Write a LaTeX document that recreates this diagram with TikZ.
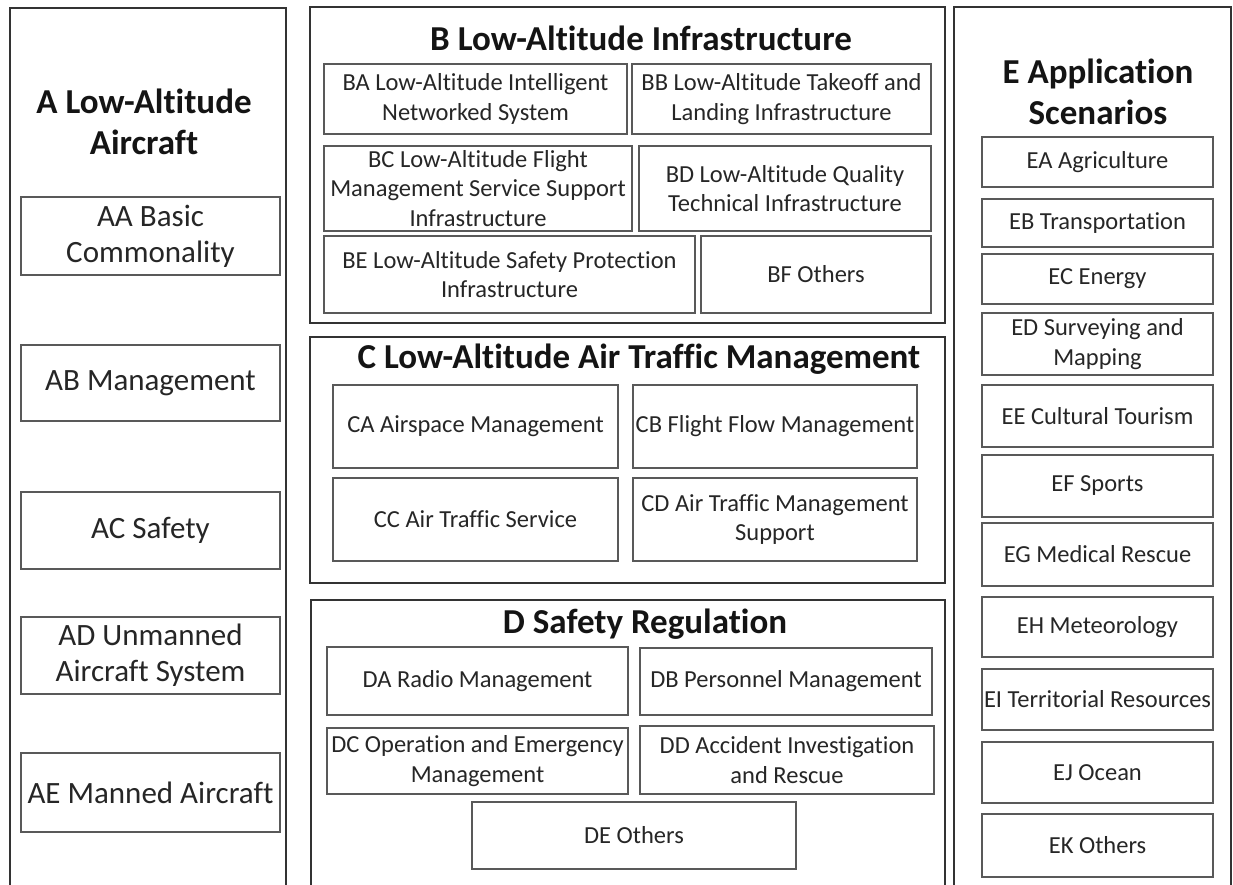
\documentclass[tikz,border=0pt]{standalone}
\usepackage{fontspec}
\setmainfont{Carlito}[Ligatures={NoCommon,NoContextual,NoRequired}]
\tikzset{
	frame_box/.style = {
		rectangle,
		inner sep=0pt,
		draw=black!80,
		line width=2pt
	},
	item_box/.style = {
		rectangle,
		align=center,
		inner sep=0pt,
		text=black!85,
		draw=black!65,
		line width=1.3pt
	},
	item_big/.style = {
		item_box,
		font=\fontsize{31}{36}\selectfont
	},
	item_mid/.style = {
		item_box,
		font=\fontsize{24.5}{29.5}\selectfont
	},
	title_node/.style = {
		align=center,
		inner sep=0pt,
		text=black!92,
		font=\fontsize{35}{41}\selectfont\bfseries
	},
	wh/.style 2 args = {
		minimum width=#1pt,
		minimum height=#2pt
	},
}
\begin{document}
\begin{tikzpicture}[x=1pt, y=-1pt]
\useasboundingbox[fill=white] (0,0) rectangle (1233,885);

\node [frame_box, wh={276}{884}] (A) at (148,450) {};
\node [frame_box, wh={635}{316}] (B) at (627.5,165) {};
\node [frame_box, wh={635}{246}] (C) at (627.5,460) {};
\node [frame_box, wh={634}{292}] (D) at (628,746) {};
\node [frame_box, wh={277}{885}] (E) at (1092.5,449.5) {};

\node [title_node] (A_title) at (144,122) {A Low-Altitude\\Aircraft};
\node [item_big, wh={259}{78}] (AA) at (150.5,236) {AA Basic\\Commonality};
\node [item_big, wh={259}{76}] (AB) at (150.5,383) {AB Management};
\node [item_big, wh={259}{77}] (AC) at (150.5,530.5) {AC Safety};
\node [item_big, wh={259}{77}] (AD) at (150.5,655.5) {AD Unmanned\\Aircraft System};
\node [item_big, wh={259}{79}] (AE) at (150.5,792.5) {AE Manned Aircraft};

\node [title_node, anchor=base] (B_title) at (641,51) {B Low-Altitude Infrastructure};
\node [item_mid, wh={303}{70}] (BA) at (475.5,99) {BA Low-Altitude Intelligent\\Networked System};
\node [item_mid, wh={299}{70}] (BB) at (781.5,99) {BB Low-Altitude Takeoff and\\Landing Infrastructure};
\node [item_mid, wh={308}{85}] (BC) at (478,188.5) {BC Low-Altitude Flight\\Management Service Support\\Infrastructure};
\node [item_mid, wh={292}{85}] (BD) at (785,188.5) {BD Low-Altitude Quality\\Technical Infrastructure};
\node [item_mid, wh={371}{77}] (BE) at (509.5,274.5) {BE Low-Altitude Safety Protection\\Infrastructure};
\node [item_mid, wh={230}{77}] (BF) at (816,274.5) {BF Others};

\node [title_node, anchor=base] (C_title) at (639,368) {C Low-Altitude Air Traffic Management};
\node [item_mid, wh={285}{83}] (CA) at (475.5,426.5) {CA Airspace Management};
\node [item_mid, wh={284}{83}] (CB) at (775,426.5) {CB Flight Flow Management};
\node [item_mid, wh={285}{83}] (CC) at (475.5,519.5) {CC Air Traffic Service};
\node [item_mid, wh={284}{83}] (CD) at (775,519.5) {CD Air Traffic Management\\Support};

\node [title_node, anchor=base] (D_title) at (645,633) {D Safety Regulation};
\node [item_mid, wh={301}{68}] (DA) at (477.5,681) {DA Radio Management};
\node [item_mid, wh={292}{67}] (DB) at (786,681.5) {DB Personnel Management};
\node [item_mid, wh={301}{66}] (DC) at (477.5,761) {DC Operation and Emergency\\Management};
\node [item_mid, wh={294}{68}] (DD) at (787,760) {DD Accident Investigation\\and Rescue};
\node [item_mid, wh={324}{67}] (DE) at (634,835.5) {DE Others};

\node [title_node] (E_title) at (1098,92) {E Application\\Scenarios};
\node [item_mid, wh={231}{50}] (EA) at (1097.5,162) {EA Agriculture};
\node [item_mid, wh={231}{48}] (EB) at (1097.5,223) {EB Transportation};
\node [item_mid, wh={231}{50}] (EC) at (1097.5,279) {EC Energy};
\node [item_mid, wh={231}{62}] (ED) at (1097.5,344) {ED Surveying and\\Mapping};
\node [item_mid, wh={231}{62}] (EE) at (1097.5,416) {EE Cultural Tourism};
\node [item_mid, wh={231}{62}] (EF) at (1097.5,486) {EF Sports};
\node [item_mid, wh={231}{63}] (EG) at (1097.5,554.5) {EG Medical Rescue};
\node [item_mid, wh={231}{60}] (EH) at (1097.5,627) {EH Meteorology};
\node [item_mid, wh={231}{61}] (EI) at (1097.5,699.5) {EI Territorial Resources};
\node [item_mid, wh={231}{61}] (EJ) at (1097.5,772.5) {EJ Ocean};
\node [item_mid, wh={231}{63}] (EK) at (1097.5,845.5) {EK Others};
\end{tikzpicture}
\end{document}
